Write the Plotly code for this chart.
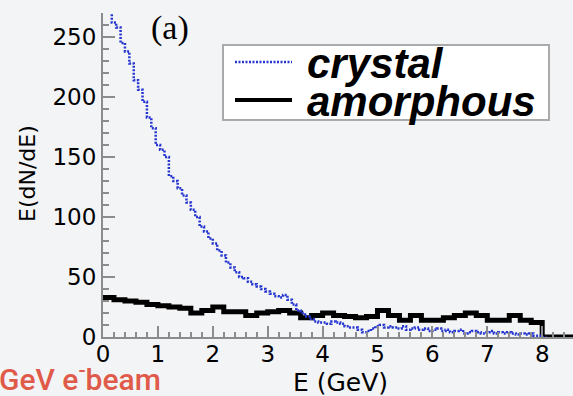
import numpy as np
import plotly.graph_objects as go

# Energy spectra E(dN/dE) vs photon energy E (GeV)
crystal_bin_width = 0.08
crystal_values = [
    285, 275, 262, 258, 245, 238, 228, 214, 206, 196,
    183, 174, 160, 156, 150, 134, 130, 124, 118, 112,
    106, 100, 92, 88, 82, 78, 72, 68, 62, 58,
    54, 50, 49, 46, 44, 42, 40, 38, 36, 34,
    33, 35, 31, 27, 22, 20, 17, 15, 13, 12,
    12, 11, 13, 12, 11, 9, 8, 8, 6, 4,
    5, 7, 9, 10, 8, 9, 8, 7, 9, 6,
    7, 8, 6, 7, 5, 6, 7, 5, 6, 4,
    5, 6, 3, 4, 5, 4, 3, 4, 5, 3,
    4, 3, 4, 3, 2, 3, 2, 3, 1, 1,
]

amorphous_bin_width = 0.2
amorphous_values = [
    33, 31, 30, 29, 27, 26, 25, 24, 20, 22,
    25, 21, 21, 18, 20, 21, 22, 20, 16, 18,
    20, 18, 17, 16, 17, 22, 18, 14, 18, 14,
    14, 16, 18, 20, 18, 14, 14, 18, 14, 12,
    0, 0, 0,
]

legend_names = ["crystal", "amorphous"]
x_ticks = [0, 1, 2, 3, 4, 5, 6, 7, 8]
y_ticks = [0, 50, 100, 150, 200, 250]


def step_xy(values, width):
    edges = np.arange(len(values) + 1) * width
    return edges, list(values) + [values[-1]]


cx, cy = step_xy(crystal_values + [0], crystal_bin_width)
ax_, ay = step_xy(amorphous_values, amorphous_bin_width)

BG = "#f3f4f6"
AXIS = "#8c8c8c"
L, T, B = 103, 13, 59
W, H = 573, 396
PW, PH = W - L, H - T - B

CRYSTAL_LINE = dict(color="#2535d0", width=2.5, dash="2px,1.5px")
AMORPH_LINE = dict(color="black", width=5)


def px(x):
    return (x - L) / PW


def py(y):
    return (H - B - y) / PH


fig = go.Figure()
fig.add_trace(go.Scatter(
    x=ax_, y=ay, mode="lines", line_shape="hv", name=legend_names[1],
    line=AMORPH_LINE, showlegend=False,
))
fig.add_trace(go.Scatter(
    x=cx, y=cy, mode="lines", line_shape="hv", name=legend_names[0],
    line=CRYSTAL_LINE, showlegend=False,
))

tick_font = dict(family="DejaVu Sans", size=23, color="black")
fig.update_xaxes(
    range=[0, (W - L) / 54.9], tickvals=x_ticks, showgrid=False, zeroline=False,
    showline=True, linecolor=AXIS, linewidth=2,
    ticks="inside", ticklen=11, tickwidth=1.5, tickcolor=AXIS, tickfont=tick_font,
    ticklabelstandoff=-5,
    minor=dict(dtick=0.2, ticks="inside", ticklen=5, tickwidth=1.5, tickcolor=AXIS, showgrid=False),
)
fig.update_yaxes(
    range=[0, 270], tickvals=y_ticks, showgrid=False, zeroline=False,
    showline=True, linecolor=AXIS, linewidth=2,
    ticks="inside", ticklen=12, tickwidth=1.5, tickcolor=AXIS, tickfont=tick_font,
    minor=dict(dtick=10, ticks="inside", ticklen=6, tickwidth=1.5, tickcolor=AXIS, showgrid=False),
)

legend_font = dict(family="Liberation Sans, Arial", size=42, weight="bold",
                   style="italic", color="black")

annotations = [
    dict(x=px(170), y=py(28), text="(a)",
         font=dict(family="Liberation Serif", size=34, color="black")),
    dict(x=px(340), y=py(382), text="E (GeV)",
         font=dict(family="DejaVu Sans", size=25, color="black")),
    dict(x=px(27), y=py(174), text="E(dN/dE)", textangle=-90,
         font=dict(family="DejaVu Sans", size=22, color="black")),
    dict(x=px(163), y=py(377), text="GeV e<sup>-</sup>beam", xanchor="right",
         font=dict(family="Roboto", size=30, weight=500, color="#e05a4a")),
    dict(x=px(305), y=py(63), text=legend_names[0], xanchor="left", font=legend_font),
    dict(x=px(305), y=py(101), text=legend_names[1], xanchor="left", font=legend_font),
]
for a in annotations:
    a.setdefault("xanchor", "center")
    a.update(xref="paper", yref="paper", showarrow=False, yanchor="middle")

# legend frame and line samples
shapes = [
    dict(type="rect", x0=px(223), x1=px(549), y0=py(45), y1=py(120),
         fillcolor="white", line=dict(color="#aaaaaa", width=2), layer="above"),
    dict(type="line", x0=px(235), x1=px(292), y0=py(62), y1=py(62), line=CRYSTAL_LINE),
    dict(type="line", x0=px(235), x1=px(292), y0=py(100), y1=py(100),
         line=dict(color="black", width=4)),
]
for s in shapes:
    s.update(xref="paper", yref="paper")

fig.update_layout(
    width=W, height=H, margin=dict(l=L, r=0, t=T, b=B, pad=0),
    paper_bgcolor=BG, plot_bgcolor=BG,
    annotations=annotations, shapes=shapes, showlegend=False,
)

fig.write_html("out.html")
